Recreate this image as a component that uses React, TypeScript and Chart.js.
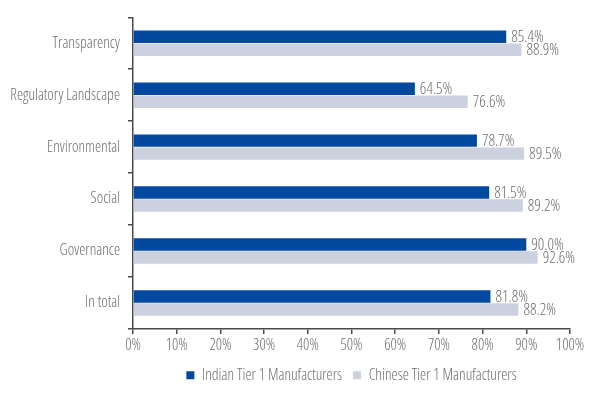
import React, { useEffect, useRef } from "react";
import { Chart, registerables } from "chart.js";

Chart.register(...registerables);

const categories = ["Transparency", "Regulatory Landscape", "Environmental", "Social", "Governance", "In total"];
const indianValues = [85.4, 64.5, 78.7, 81.5, 90.0, 81.8];
const chineseValues = [88.9, 76.6, 89.5, 89.2, 92.6, 88.2];
const seriesNames = ["Indian Tier 1 Manufacturers", "Chinese Tier 1 Manufacturers"];

const FONT = "'Open Sans', sans-serif";
const STRETCH = "300 condensed";
const TEXT = "#6e6e6e";
const AXIS = "#4a4a4a";

const labelPlugin = {
  id: "barLabels",
  afterDatasetsDraw(chart: any) {
    const ctx = chart.ctx;
    ctx.save();
    ctx.font = `${STRETCH} 16px ${FONT}`;
    ctx.fillStyle = TEXT;
    ctx.textBaseline = "middle";
    ctx.textAlign = "left";
    chart.data.datasets.forEach((ds: any, di: number) => {
      const meta = chart.getDatasetMeta(di);
      meta.data.forEach((bar: any, i: number) => {
        const v = ds.data[i];
        ctx.fillText(v.toFixed(1) + "%", bar.x + 5, bar.y + 1);
      });
    });
    ctx.restore();
  },
};

export default function App() {
  const ref = useRef<HTMLCanvasElement>(null);
  useEffect(() => {
    const font = { family: FONT, size: 15.5, weight: STRETCH as any };
    const chart = new Chart(ref.current!, {
      type: "bar",
      data: {
        labels: categories,
        datasets: [
          { label: seriesNames[0], data: indianValues, backgroundColor: "#0349A0" },
          { label: seriesNames[1], data: chineseValues, backgroundColor: "#CBD1DF" },
        ],
      },
      options: {
        indexAxis: "y",
        animation: false,
        responsive: false,
        maintainAspectRatio: false,
        layout: { padding: { top: 8, right: 30, left: 0, bottom: 2 } },
        datasets: { bar: { categoryPercentage: 0.5, barPercentage: 0.96 } },
        scales: {
          x: {
            min: 0,
            max: 100,
            grid: { display: true, drawOnChartArea: false, drawTicks: true, tickLength: 5, color: AXIS, lineWidth: 1.5 },
            border: { display: true, color: AXIS, width: 1.5 },
            ticks: {
              stepSize: 10,
              color: TEXT,
              font,
              padding: 2,
              maxRotation: 0,
              callback: (v: any) => v + "%",
            },
          },
          y: {
            grid: { display: true, drawOnChartArea: false, drawTicks: true, tickLength: 5, color: AXIS, lineWidth: 1.5, offset: true },
            border: { display: true, color: AXIS, width: 1.5 },
            ticks: { color: TEXT, font, padding: 8 },
            afterFit: (scale: any) => {
              scale.width = 133;
            },
          },
        },
        plugins: {
          legend: {
            position: "bottom",
            fullSize: false,
            labels: {
              boxWidth: 8,
              boxHeight: 8,
              color: TEXT,
              font,
              padding: 11,
            },
          },
          tooltip: { enabled: false },
        },
      },
      plugins: [labelPlugin],
    });
    return () => chart.destroy();
  }, []);
  return (
    <div style={{ position: "absolute", left: 0, top: 0, width: 600, height: 395, background: "#fff" }}>
      <canvas ref={ref} width={600} height={395} />
    </div>
  );
}
